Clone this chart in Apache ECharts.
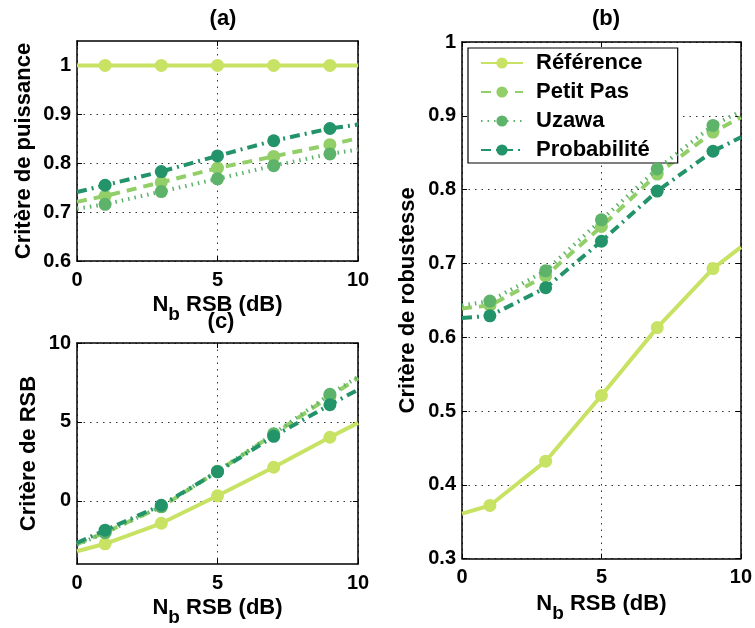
<!DOCTYPE html>
<html><head><meta charset="utf-8">
<script src="https://cdn.jsdelivr.net/npm/echarts@6/dist/echarts.min.js"></script>
<style>html,body{margin:0;padding:0;background:#fff}#c{width:755px;height:628px}</style>
</head><body><div id="c"></div>
<script>
// x positions of the data (line ends at 0 and 10, markers at the odd values)
var xs = [0, 1, 3, 5, 7, 9, 10];
var markerShown = [false, true, true, true, true, true, false];
var names = ['Référence', 'Petit Pas', 'Uzawa', 'Probabilité'];
var xTicks = [0, 5, 10];
// (a) Critère de puissance
var aRef  = [1, 1, 1, 1, 1, 1, 1];
var aPP   = [0.721, 0.733, 0.761, 0.790, 0.814, 0.838, 0.851];
var aUz   = [0.707, 0.716, 0.742, 0.768, 0.795, 0.819, 0.828];
var aProb = [0.741, 0.755, 0.783, 0.815, 0.846, 0.871, 0.879];
var aTicks = [0.6, 0.7, 0.8, 0.9, 1];
// (b) Critère de robustesse
var bRef  = [0.361, 0.372, 0.432, 0.521, 0.613, 0.693, 0.722];
var bPP   = [0.639, 0.643, 0.683, 0.750, 0.821, 0.878, 0.898];
var bUz   = [0.643, 0.649, 0.690, 0.759, 0.828, 0.887, 0.906];
var bProb = [0.626, 0.629, 0.667, 0.730, 0.798, 0.852, 0.871];
var bTicks = [0.3, 0.4, 0.5, 0.6, 0.7, 0.8, 0.9, 1];
// (c) Critère de RSB
var cRef  = [-3.19, -2.72, -1.42, 0.32, 2.13, 4.03, 4.94];
var cPP   = [-2.75, -2.00, -0.38, 1.86, 4.22, 6.62, 7.78];
var cUz   = [-2.78, -2.02, -0.36, 1.88, 4.25, 6.75, 7.85];
var cProb = [-2.66, -1.86, -0.28, 1.84, 4.09, 6.09, 7.04];
var cTicks = [0, 5, 10];

var colors = ['#c8e264', '#93cf68', '#5db36a', '#23936a'];
var lineTypes = ['solid', [10, 7], [1.5, 5], [10, 5, 2, 5]];
var FONT = 'Liberation Sans, Arial, Helvetica, sans-serif';

function pts(vals) {
  return xs.map(function (x, i) {
    var p = { value: [x, vals[i]] };
    if (!markerShown[i]) p.symbol = 'none';
    return p;
  });
}
function mkSeries(idx, sets) {
  return sets.map(function (vals, k) {
    return {
      name: names[k], type: 'line', xAxisIndex: idx, yAxisIndex: idx,
      data: pts(vals), symbol: 'circle', symbolSize: 13, showSymbol: true,
      lineStyle: { color: colors[k], width: 4, type: lineTypes[k] },
      itemStyle: { color: colors[k] }, z: 2 + k, animation: false, clip: true
    };
  });
}
var labelStyle = { fontFamily: FONT, fontWeight: 'bold', fontSize: 20, color: '#000' };
var nameStyle = {
  fontFamily: FONT, fontWeight: 'bold', fontSize: 22, color: '#000',
  rich: { sub: { fontFamily: FONT, fontWeight: 'bold', fontSize: 19, color: '#000', padding: [20, 0, 0, 0] } }
};
var split = { show: true, lineStyle: { color: '#333', type: [1.5, 5], width: 1 } };
var tickStyle = { show: true, inside: true, length: 5, lineStyle: { color: '#000', width: 1 } };
var lineSt = { show: true, onZero: false, lineStyle: { color: '#000', width: 1.5 } };

function xAx(gi) {
  return {
    type: 'value', gridIndex: gi, min: 0, max: 10,
    axisLine: lineSt,
    axisTick: Object.assign({ customValues: xTicks }, tickStyle),
    axisLabel: Object.assign({ margin: 9, customValues: xTicks }, labelStyle),
    splitLine: split,
    name: 'N{sub|b} RSB (dB)', nameLocation: 'middle', nameGap: 24, nameTextStyle: nameStyle
  };
}
function xAxTop(gi) {
  return {
    type: 'value', gridIndex: gi, min: 0, max: 10, position: 'top',
    axisLine: lineSt,
    axisTick: Object.assign({ customValues: xTicks }, tickStyle),
    axisLabel: { show: false }, splitLine: { show: false }
  };
}
function yAx(gi, mn, mx, ticks, name, gap) {
  return {
    type: 'value', gridIndex: gi, min: mn, max: mx,
    axisLine: lineSt,
    axisTick: Object.assign({ customValues: ticks }, tickStyle),
    axisLabel: Object.assign({ margin: 6, customValues: ticks,
      formatter: function (v) { return String(+(+v).toFixed(2)); } }, labelStyle),
    splitLine: split,
    name: name, nameLocation: 'middle', nameGap: gap, nameTextStyle: nameStyle
  };
}
function yAxRight(gi, mn, mx, ticks) {
  return {
    type: 'value', gridIndex: gi, min: mn, max: mx, position: 'right',
    axisLine: lineSt,
    axisTick: Object.assign({ customValues: ticks }, tickStyle),
    axisLabel: { show: false }, splitLine: { show: false }
  };
}

var chart = echarts.init(document.getElementById('c'), null, { renderer: 'canvas' });
var series = [].concat(
  mkSeries(0, [aRef, aPP, aUz, aProb]),
  mkSeries(1, [cRef, cPP, cUz, cProb]),
  mkSeries(2, [bRef, bPP, bUz, bProb])
);
var titleStyle = { fontFamily: FONT, fontWeight: 'bold', fontSize: 22, color: '#000' };
chart.setOption({
  animation: false,
  backgroundColor: '#fff',
  title: [
    { text: '(a)', left: 218, top: 3, textAlign: 'center', textStyle: titleStyle },
    { text: '(b)', left: 601, top: 3, textAlign: 'center', textStyle: titleStyle },
    { text: '(c)', left: 216, top: 306, textAlign: 'center', textStyle: titleStyle }
  ],
  grid: [
    { left: 77, top: 41, width: 281, height: 220, show: false },
    { left: 77, top: 343, width: 281, height: 221, show: false },
    { left: 462, top: 42, width: 280, height: 523, show: false }
  ],
  xAxis: [xAx(0), xAx(1), xAx(2), xAxTop(0), xAxTop(1), xAxTop(2)],
  yAxis: [
    yAx(0, 0.6, 1.05, aTicks, 'Critère de puissance', 42),
    yAx(1, -4, 10, cTicks, 'Critère de RSB', 37),
    yAx(2, 0.3, 1, bTicks, 'Critère de robustesse', 43),
    yAxRight(0, 0.6, 1.05, aTicks), yAxRight(1, -4, 10, cTicks), yAxRight(2, 0.3, 1, bTicks)
  ],
  legend: {
    show: true, orient: 'vertical', left: 468, top: 48,
    data: names, backgroundColor: '#fff', borderColor: '#000', borderWidth: 1.2,
    padding: [4, 28, 2, 12], itemGap: 7, itemWidth: 42, itemHeight: 14,
    textStyle: { fontFamily: FONT, fontWeight: 'bold', fontSize: 22, color: '#000', padding: [0, 0, 0, 8] },
    selectedMode: false
  },
  series: series
});
</script>
</body></html>
